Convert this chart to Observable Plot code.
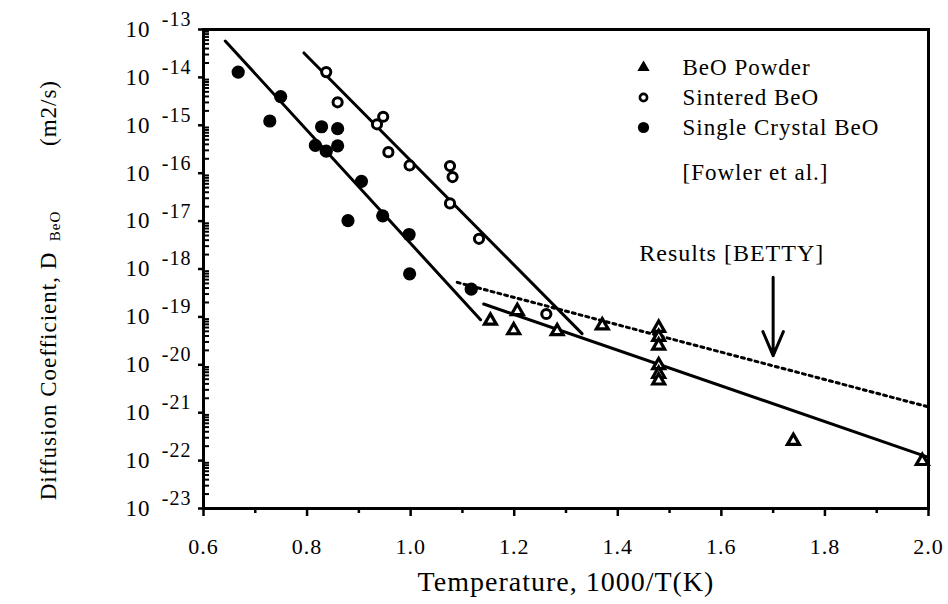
<!DOCTYPE html>
<html><head><meta charset="utf-8">
<script src="https://cdn.jsdelivr.net/npm/d3@7"></script>
<script src="https://cdn.jsdelivr.net/npm/@observablehq/plot@0.6"></script>
<style>
body{margin:0;background:#fff}
#chart svg, #chart svg text { font-family: "Liberation Serif", "Times New Roman", serif !important; }
</style>
</head><body><div id="chart"></div>
<script>
const FONT = '"Liberation Serif","Times New Roman",serif';

// Single Crystal BeO (filled circles)
const singleX = [0.667, 0.749, 0.728, 0.828, 0.859, 0.816, 0.837, 0.859, 0.905, 0.879, 0.946, 0.997, 0.998, 1.117];
const singleD = [1.29e-14, 3.98e-15, 1.23e-15, 9.33e-16, 8.51e-16, 3.80e-16, 2.88e-16, 3.72e-16, 6.76e-17, 1.02e-17, 1.29e-17, 5.25e-18, 7.94e-19, 3.80e-19];
// Sintered BeO (open circles)
const sinterX = [0.837, 0.859, 0.947, 0.935, 0.957, 0.998, 1.076, 1.081, 1.076, 1.132, 1.262];
const sinterD = [1.29e-14, 3.02e-15, 1.51e-15, 1.05e-15, 2.75e-16, 1.45e-16, 1.41e-16, 8.32e-17, 2.34e-17, 4.27e-18, 1.15e-19];
// BeO Powder (triangles)
const powderX = [1.154, 1.206, 1.199, 1.283, 1.370, 1.479, 1.479, 1.479, 1.479, 1.479, 1.479, 1.739, 1.988];
const powderD = [8.32e-20, 1.32e-19, 5.25e-20, 5.01e-20, 6.61e-20, 5.89e-20, 3.80e-20, 2.51e-20, 9.77e-21, 6.46e-21, 4.68e-21, 2.57e-22, 9.77e-23];

// fitted lines (end points)
const singleFitX = [0.642, 1.135], singleFitD = [5.75e-14, 8.71e-20];
const sinterFitX = [0.794, 1.331], sinterFitD = [3.24e-14, 4.47e-20];
const powderFitX = [1.141, 2.0], powderFitD = [1.86e-19, 1.17e-22];
const bettyFitX = [1.090, 2.0], bettyFitD = [5.25e-19, 1.32e-21];

// annotation
const arrowX = 1.70, arrowTop = 6.76e-19, arrowBottom = 1.55e-20;
const noteX = 1.62, noteD = 2.09e-18, noteText = "Results [BETTY]";

// axes
const xTicks = [0.6, 0.8, 1.0, 1.2, 1.4, 1.6, 1.8, 2.0];
const xMinorTicks = [0.7, 0.9, 1.1, 1.3, 1.5, 1.7, 1.9];
const yTicks = [1e-13, 1e-14, 1e-15, 1e-16, 1e-17, 1e-18, 1e-19, 1e-20, 1e-21, 1e-22, 1e-23];
const yTickBase = "10";
const yTickExp = ["-13", "-14", "-15", "-16", "-17", "-18", "-19", "-20", "-21", "-22", "-23"];
const yMinorTicks = d3.range(-23, -13).flatMap(e => d3.range(2, 10).map(m => +(m + "e" + e)));

const legendLabels = ["BeO Powder", "Sintered BeO", "Single Crystal BeO"];
const legendNote = "[Fowler et al.]";
const xTitle = "Temperature, 1000/T(K)";
const yTitleMain = "Diffusion Coefficient, D";
const yTitleSub = "BeO";
const yTitleUnit = "(m2/s)";

const pts = (X, Y) => X.map((x, i) => ({x, y: Y[i]}));

const legendStyles = [
  {symbol: "triangle", r: 3.6, fill: "black", stroke: "black", strokeWidth: 1.5},
  {symbol: "circle", r: 3.6, fill: "white", stroke: "black", strokeWidth: 2.6},
  {symbol: "circle", r: 5.6, fill: "black", stroke: "none", strokeWidth: 0}
];
const legendRowDy = [38, 68, 98];

const chart = Plot.plot({
  width: 948, height: 604,
  marginLeft: 203, marginRight: 20, marginTop: 29, marginBottom: 96,
  style: {fontFamily: FONT, fontSize: "22px", color: "black", background: "white", letterSpacing: "1px"},
  x: {domain: [0.6, 2.0]},
  y: {type: "log", domain: [1e-23, 1e-13]},
  marks: [
    Plot.axisX({ticks: xTicks, tickSize: 8, tickPadding: 22, tickFormat: d => d.toFixed(1), fontSize: 22, strokeWidth: 2.5, label: null}),
    Plot.axisX({ticks: xMinorTicks, tickSize: 5, tickFormat: () => "", strokeWidth: 2.5, label: null}),
    Plot.axisY({ticks: yTicks, tickSize: 5, tickFormat: () => "", strokeWidth: 2.5, label: null}),
    Plot.axisY({ticks: yMinorTicks, tickSize: -6, tickFormat: () => "", strokeWidth: 2, label: null}),
    Plot.text(yTicks, {y: d => d, frameAnchor: "left", text: () => yTickBase, textAnchor: "end", lineAnchor: "middle", dx: -53, fontSize: 23}),
    Plot.text(yTicks, {y: d => d, frameAnchor: "left", text: (d, i) => yTickExp[i], textAnchor: "end", lineAnchor: "middle", dx: -12, dy: -10, fontSize: 20}),
    Plot.frame({strokeWidth: 3}),
    Plot.line(pts(singleFitX, singleFitD), {x: "x", y: "y", stroke: "black", strokeWidth: 3}),
    Plot.line(pts(sinterFitX, sinterFitD), {x: "x", y: "y", stroke: "black", strokeWidth: 3}),
    Plot.line(pts(powderFitX, powderFitD), {x: "x", y: "y", stroke: "black", strokeWidth: 3}),
    Plot.line(pts(bettyFitX, bettyFitD), {x: "x", y: "y", stroke: "black", strokeWidth: 3, strokeDasharray: "3,4"}),
    Plot.dot(pts(singleX, singleD), {x: "x", y: "y", r: 6.6, fill: "black"}),
    Plot.dot(pts(sinterX, sinterD), {x: "x", y: "y", r: 4.6, fill: "white", stroke: "black", strokeWidth: 3}),
    Plot.dot(pts(powderX, powderD), {x: "x", y: "y", symbol: "triangle", r: 4.4, fill: "white", stroke: "black", strokeWidth: 3.2}),
    Plot.arrow([{x: arrowX, y1: arrowTop, y2: arrowBottom}], {x1: "x", x2: "x", y1: "y1", y2: "y2", stroke: "black", strokeWidth: 3, headLength: 28, headAngle: 46}),
    Plot.text([{x: noteX, y: noteD, t: noteText}], {x: "x", y: "y", text: "t", fontSize: 24}),
    ...legendLabels.map((lab, i) => Plot.dot([lab], {frameAnchor: "top-left", dx: 440, dy: legendRowDy[i], ...legendStyles[i]})),
    ...legendLabels.map((lab, i) => Plot.text([lab], {frameAnchor: "top-left", dx: 479, dy: legendRowDy[i], text: d => d, textAnchor: "start", lineAnchor: "middle", fontSize: 23})),
    Plot.text([legendNote], {frameAnchor: "top-left", dx: 479, dy: 143, text: d => d, textAnchor: "start", lineAnchor: "middle", fontSize: 23}),
    Plot.text([xTitle], {frameAnchor: "bottom", dy: 74, text: d => d, lineAnchor: "middle", textAnchor: "middle", fontSize: 28}),
    Plot.text([yTitleMain], {frameAnchor: "left", dx: -155, dy: 107, rotate: -90, text: d => d, textAnchor: "middle", lineAnchor: "middle", fontSize: 23}),
    Plot.text([yTitleSub], {frameAnchor: "left", dx: -148, dy: -43, rotate: -90, text: d => d, textAnchor: "middle", lineAnchor: "middle", fontSize: 15}),
    Plot.text([yTitleUnit], {frameAnchor: "left", dx: -155, dy: -156, rotate: -90, text: d => d, textAnchor: "middle", lineAnchor: "middle", fontSize: 23})
  ]
});
document.getElementById("chart").appendChild(chart);
</script>
</body></html>
